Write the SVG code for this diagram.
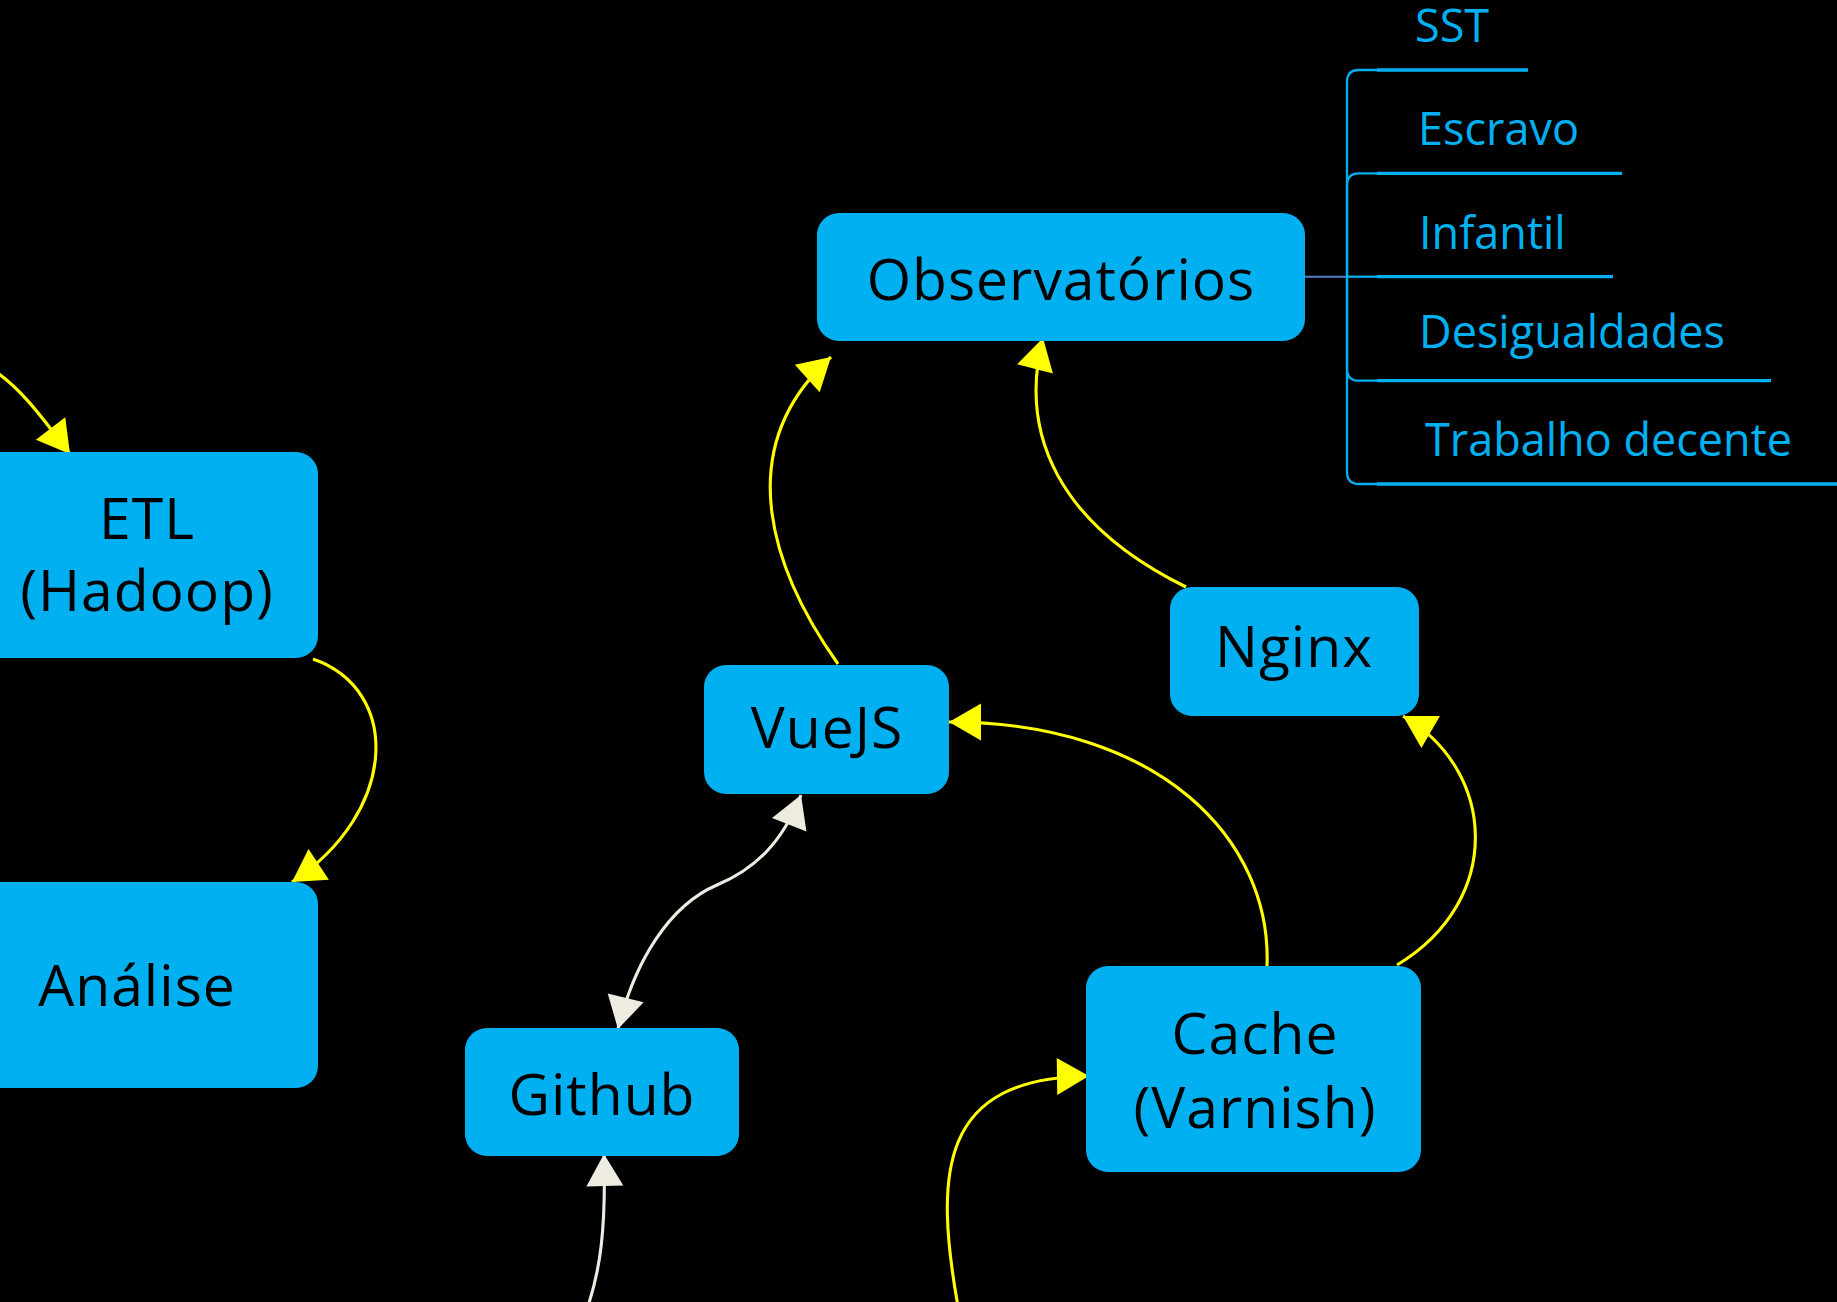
<svg xmlns="http://www.w3.org/2000/svg" width="1837" height="1302" viewBox="0 0 1837 1302">
<style>
.box{fill:#00B0F0}
.lbl{font-family:"Open Sans","Noto Sans",sans-serif;font-size:57px;fill:#000;text-anchor:middle;letter-spacing:1px}
.sub{font-family:"Open Sans","Noto Sans",sans-serif;font-size:45px;fill:#00B0F0}
.y{fill:none;stroke:#FFFF00;stroke-width:3.1;marker-end:url(#ay)}
.w{fill:none;stroke:#EEECE1;stroke-width:3.1}
.br{fill:none;stroke:#00B0F0;stroke-width:2.3}
.ul{fill:none;stroke:#00B0F0;stroke-width:3.3}
</style>
<defs>
<marker id="ay" markerUnits="userSpaceOnUse" markerWidth="34" markerHeight="39" refX="32" refY="18.5" orient="auto" overflow="visible"><path d="M0,0 L32,18.5 L0,37 z" fill="#FFFF00"/></marker>
<marker id="aw" markerUnits="userSpaceOnUse" markerWidth="34" markerHeight="39" refX="32" refY="18.5" orient="auto-start-reverse" overflow="visible"><path d="M0,0 L32,18.5 L0,37 z" fill="#EEECE1"/></marker>
</defs>
<rect x="0" y="0" width="1837" height="1302" fill="#000"/>
<g id="connectors">
<path class="y" d="M-10,368 C20,386 44,420 70,454"/>
<path class="y" d="M313,659 C402,690 398,812 292,882"/>
<path class="y" d="M1186,587 C1060,525 1018,435 1043,338"/>
<path class="y" d="M838,664 C775,575 727,451 831,357"/>
<path class="y" d="M1267,966 C1272,840 1160,722 949,722"/>
<path class="y" d="M1397,965 C1505,900 1496,770 1403,716"/>
<path class="y" d="M959,1312 C933,1170 940,1078 1089,1076"/>
<path class="w" d="M618,1029 C635,960 670,905 717,885 C755,869 782,843 801,795" marker-start="url(#aw)" marker-end="url(#aw)"/>
<path class="w" d="M588,1306 C600,1270 606,1230 604,1154" marker-end="url(#aw)"/>
<path d="M1305,276.7 H1347" fill="none" stroke="#4F7FC8" stroke-width="2"/>
<path class="br" d="M1347,276.7 V82 Q1347,70 1359,70 H1377"/>
<path class="br" d="M1347,276.7 V185.3 Q1347,173.3 1359,173.3 H1377"/>
<path class="br" d="M1347,276.7 H1377"/>
<path class="br" d="M1347,276.7 V368.7 Q1347,380.7 1359,380.7 H1377"/>
<path class="br" d="M1347,276.7 V472 Q1347,484 1359,484 H1377"/>
</g>
<g id="node-observatorios"><rect class="box" x="817" y="213" width="488" height="128" rx="22"/><text class="lbl" x="1061" y="300">Observatórios</text></g>
<g id="node-etl"><rect class="box" x="-24" y="452" width="342" height="206" rx="22"/><text class="lbl" x="147" y="539">ETL</text><text class="lbl" x="147" y="611">(Hadoop)</text></g>
<g id="node-analise"><rect class="box" x="-50" y="882" width="368" height="206" rx="22"/><text class="lbl" x="137" y="1006">Análise</text></g>
<g id="node-vuejs"><rect class="box" x="704" y="665" width="245" height="129" rx="22"/><text class="lbl" x="827" y="748">VueJS</text></g>
<g id="node-github"><rect class="box" x="465" y="1028" width="274" height="128" rx="22"/><text class="lbl" x="602" y="1115">Github</text></g>
<g id="node-nginx"><rect class="box" x="1170" y="587" width="249" height="129" rx="22"/><text class="lbl" x="1294" y="667">Nginx</text></g>
<g id="node-cache"><rect class="box" x="1086" y="966" width="335" height="206" rx="22"/><text class="lbl" x="1255" y="1054">Cache</text><text class="lbl" x="1255" y="1128">(Varnish)</text></g>
<g id="node-sst"><path class="ul" d="M1377,70 H1528"/><text class="sub" x="1415" y="42">SST</text></g>
<g id="node-escravo"><path class="ul" d="M1377,173.3 H1622"/><text class="sub" x="1418" y="145">Escravo</text></g>
<g id="node-infantil"><path class="ul" d="M1377,276.7 H1613"/><text class="sub" x="1419" y="249">Infantil</text></g>
<g id="node-desigualdades"><path class="ul" d="M1377,380.7 H1771"/><text class="sub" x="1419" y="348">Desigualdades</text></g>
<g id="node-trabalho"><path class="ul" d="M1377,484 H1840"/><text class="sub" x="1425" y="456">Trabalho decente</text></g>
</svg>
